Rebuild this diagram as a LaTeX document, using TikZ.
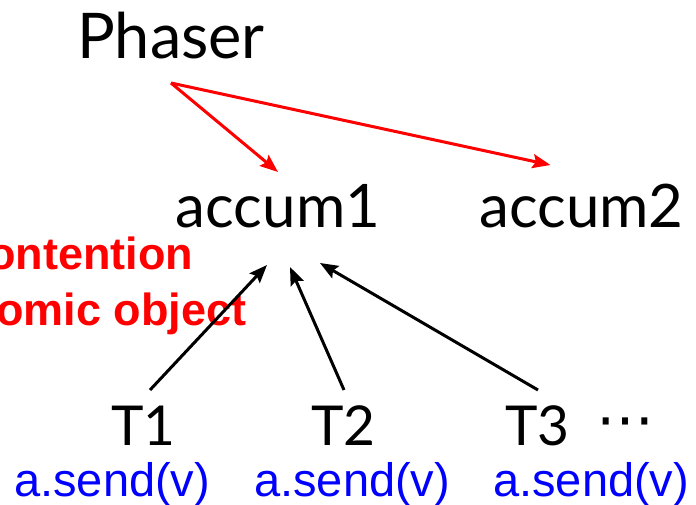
\documentclass[tikz,border=0pt]{standalone}
\usepackage{fontspec}
\newfontfamily\gillfont{Lato}
\newfontfamily\arialfont{Liberation Sans}
\newfontfamily\symfont{DejaVu Sans}
\usetikzlibrary{arrows.meta}
\definecolor{pptred}{RGB}{255,0,0}
\definecolor{pptblue}{RGB}{0,0,255}
\begin{document}
\begin{tikzpicture}[
   x=1pt,y=1pt,
   label/.style={inner sep=0pt,anchor=base,font=\gillfont\fontsize{60}{60}\selectfont},
   thread/.style={label,font=\gillfont\fontsize{55}{55}\selectfont},
   note/.style={inner sep=0pt,anchor=base west,text=pptred,font=\arialfont\bfseries\fontsize{45}{45}\selectfont},
   send/.style={inner sep=0pt,anchor=base west,text=pptblue,font=\arialfont\fontsize{47}{47}\selectfont},
   redarrow/.style={draw=pptred,line width=3pt,-{Stealth[length=18pt,width=14pt,inset=3pt]}},
   blackarrow/.style={draw=black,line width=3pt,-{Stealth[length=18pt,width=14pt,inset=3pt]}}
 ]
  \clip (0,0) rectangle (696,504);

  \node[label,font=\gillfont\fontsize{63}{63}\selectfont] (phaser) at (171,445) {Phaser};
  \node[label] (acc1) at (278,276) {accum1};
  \node[label] (acc2) at (581.5,276) {accum2};

  \draw[redarrow] ([yshift=-24pt]phaser.base) -- ([yshift=56pt]acc1.base);
  \draw[redarrow] ([yshift=-24pt]phaser.base) -- ([xshift=-31pt,yshift=63pt]acc2.base);

  \node[note] (note1) at (-12,234) {ontention};
  \node[note] (note2) at (-4,179) {omic object};

  \foreach \i/\x in {1/143.5,2/343.5,3/537.5} {
    \node[thread] (t\i) at (\x,59) {T\i};
  }
  \node[inner sep=0pt,font=\symfont\fontsize{58}{58}\selectfont] (dots) at (625,75) {⋯};

  \foreach \i/\x in {1/14,2/254,3/493} {
    \node[send] (send\i) at (\x,8) {a.send(v)};
  }

  \draw[blackarrow] ([xshift=6.5pt,yshift=55pt]t1.base) -- ([xshift=-11pt,yshift=-37pt]acc1.base);
  \draw[blackarrow] ([xshift=0.5pt,yshift=55pt]t2.base) -- ([xshift=12pt,yshift=-39pt]acc1.base);
  \draw[blackarrow] ([xshift=0.5pt,yshift=55pt]t3.base) -- ([xshift=42pt,yshift=-35pt]acc1.base);
 \end{tikzpicture}
\end{document}
